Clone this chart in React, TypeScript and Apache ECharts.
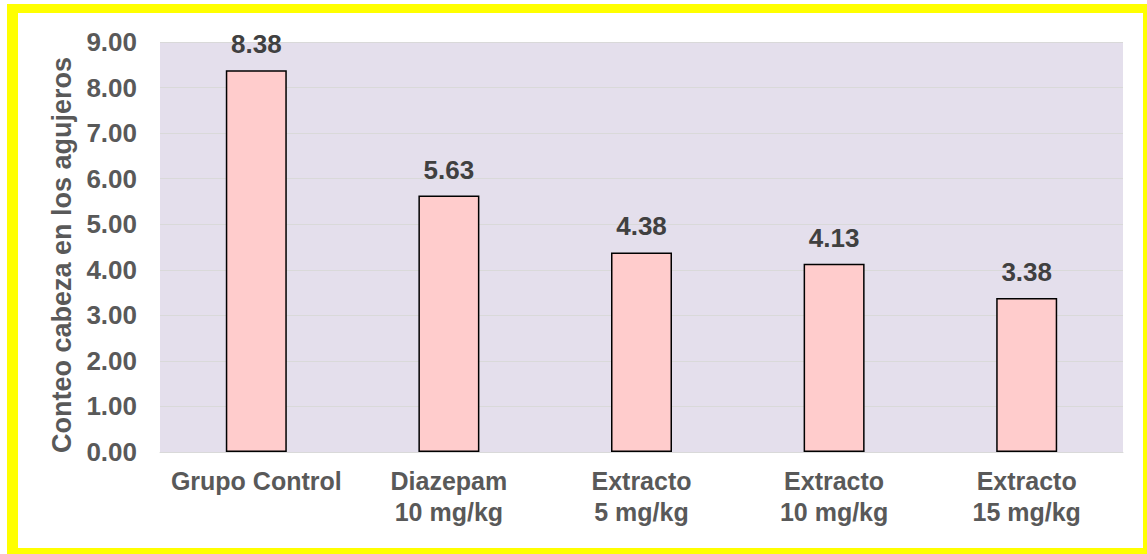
import React, { useEffect, useRef } from "react";
import * as echarts from "echarts";

const categories = [
  "Grupo Control",
  "Diazepam\n10 mg/kg",
  "Extracto\n5 mg/kg",
  "Extracto\n10 mg/kg",
  "Extracto\n15 mg/kg",
];
const values = [8.38, 5.63, 4.38, 4.13, 3.38];
const yTitle = "Conteo cabeza en los agujeros";

export default function App() {
  const ref = useRef<HTMLDivElement>(null);
  useEffect(() => {
    if (!ref.current) return;
    const chart = echarts.init(ref.current, undefined, { renderer: "svg" });
    const font = "'Liberation Sans', Arial, sans-serif";
    chart.setOption({
      animation: false,
      backgroundColor: "transparent",
      graphic: [
        { type: "rect", z: -10, silent: true, shape: { x: 7, y: 4, width: 1160, height: 570 }, style: { fill: "#FFFF00" } },
        { type: "rect", z: -9, silent: true, shape: { x: 18, y: 13, width: 1125, height: 535 }, style: { fill: "#FFFFFF" } },
      ],
      grid: {
        left: 160,
        right: 24,
        top: 42,
        height: 410,
        show: true,
        backgroundColor: "#E4DFEC",
        borderWidth: 0,
        containLabel: false,
      },
      xAxis: {
        type: "category",
        data: categories,
        axisLine: { show: true, lineStyle: { color: "#D9D9D9", width: 1 } },
        axisTick: { show: false },
        axisLabel: {
          color: "#595959",
          fontFamily: font,
          fontWeight: "bold",
          fontSize: 25,
          lineHeight: 31,
          margin: 13,
          interval: 0,
        },
      },
      yAxis: {
        type: "value",
        min: 0,
        max: 9,
        interval: 1,
        name: yTitle,
        nameLocation: "middle",
        nameGap: 84,
        nameTextStyle: {
          color: "#595959",
          fontFamily: font,
          fontWeight: "bold",
          fontSize: 27,
          padding: [0, 16, 0, 0],
        },
        axisLine: { show: false },
        axisTick: { show: false },
        splitLine: { show: true, lineStyle: { color: "#D9D9D9", width: 1 } },
        axisLabel: {
          color: "#595959",
          fontFamily: font,
          fontWeight: "bold",
          fontSize: 26,
          margin: 23,
          formatter: (v: number) => v.toFixed(2),
        },
      },
      series: [
        {
          type: "bar",
          data: values,
          barWidth: 61,
          itemStyle: { color: "#FFCCCC", borderColor: "#000000", borderWidth: 1.5 },
          label: {
            show: true,
            position: "top",
            distance: 13,
            color: "#404040",
            fontFamily: font,
            fontWeight: "bold",
            fontSize: 26,
            formatter: (p: any) => Number(p.value).toFixed(2),
          },
        },
      ],
    });
    return () => chart.dispose();
  }, []);
  return (
    <div
      ref={ref}
      style={{ position: "absolute", left: 0, top: 0, width: 1147, height: 554 }}
    />
  );
}
